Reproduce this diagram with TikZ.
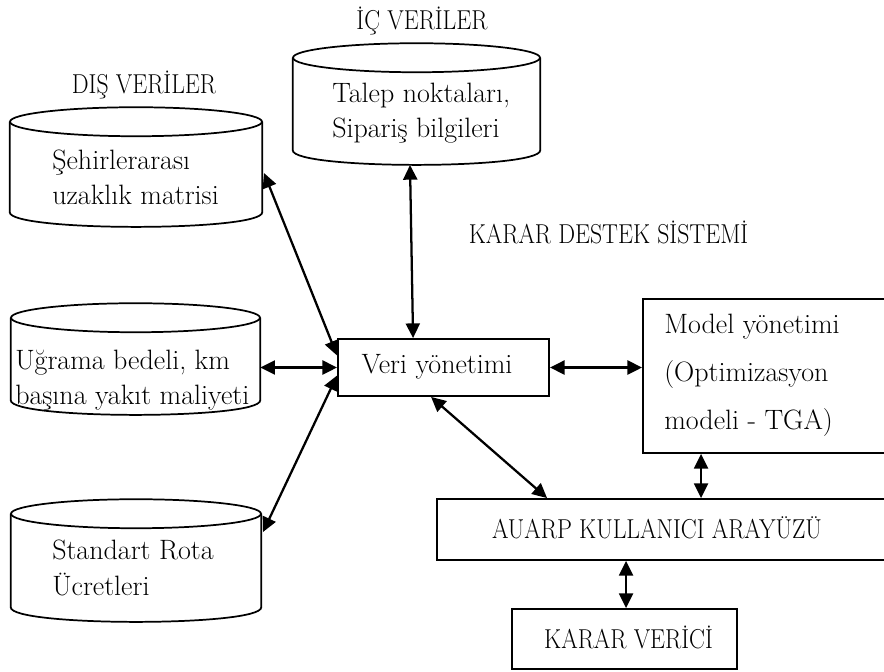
\documentclass[tikz,border=0pt]{standalone}
\usepackage{fontspec}
\newfontfamily\capfont{Latin Modern Roman}[FakeStretch=0.87]
\usetikzlibrary{arrows.meta,fit,calc}

\tikzset{
  txt/.style={font=\fontsize{21}{26}\selectfont, inner sep=0pt},
  captxt/.style={font=\capfont\fontsize{20.5}{24}\selectfont, inner sep=0pt},
  cyltxt/.style={txt, align=left, anchor=west},
  frame/.style={draw, line width=1.4pt, inner sep=0pt},
  body/.style={inner sep=0pt},
  cyl/.style={line width=1.3pt},
  tip/.tip={Triangle[length=11pt,width=10.5pt]},
  link/.style={line width=1.7pt, tip-tip},
}

% cylinder outline around a body node: top ellipse, sides, lower arc
\newcommand{\dbdrum}[2]{%
  \draw[cyl] ($(#1.north west)!0.5!(#1.north east)$) ellipse [x radius=#2, y radius=14.5];
  \draw[cyl] (#1.north west) -- (#1.south west)
    .. controls ($(#1.south west)+(0,19.5)$) and ($(#1.south east)+(0,19.5)$) .. (#1.south east)
    -- (#1.north east);
}

\begin{document}
\begin{tikzpicture}[x=0.75pt,y=-0.75pt]
\useasboundingbox (0,0) rectangle (884,671);
\clip (0,0) rectangle (884,671);

% data stores
\node[body, fit={(293,58) (540,150)}] (ic) {};
\node[body, fit={(10,122) (262,212)}] (sehir) {};
\node[body, fit={(11,318) (260,400)}] (ugrama) {};
\node[body, fit={(11,514) (261,607)}] (rota) {};
\dbdrum{ic}{123.5}
\dbdrum{sehir}{126}
\dbdrum{ugrama}{124.5}
\dbdrum{rota}{125}

\node[cyltxt] (ictxt) at (332,113) {Talep noktaları,\\Sipariş bilgileri};
\node[cyltxt] (sehirtxt) at (52,177) {Şehirlerarası\\uzaklık matrisi};
\node[cyltxt] (ugramatxt) at (15,380) {Uğrama bedeli, km\\başına yakıt maliyeti};
\node[cyltxt, font=\fontsize{21}{27.5}\selectfont] (rotatxt) at (52,568) {Standart Rota\\Ücretleri};

% headings
\node[captxt] (icbaslik) at (422,21) {İÇ VERİLER};
\node[captxt] (disbaslik) at (144,85) {DIŞ VERİLER};
\node[captxt] (kds) at (608.5,232) {KARAR DESTEK SİSTEMİ};

% system boxes
\node[frame, fit={(338,339) (549,396)}] (veri) {};
\node[txt] (veritxt) at (437,367) {Veri yönetimi};
\node[frame, fit={(643,299) (900,453)}] (model) {};
\node[txt, align=left, anchor=west, font=\fontsize{21}{36}\selectfont] (modeltxt) at (664,375) {Model yönetimi\\(Optimizasyon\\modeli - TGA)};
\node[frame, fit={(437,499) (900,560)}] (arayuz) {};
\node[captxt] (arayuztxt) at (657,528) {AUARP KULLANICI ARAYÜZÜ};
\node[frame, fit={(512,609) (737,669)}] (karar) {};
\node[captxt] (karartxt) at (628.5,637) {KARAR VERİCİ};

% connector end points
\coordinate (icA) at (410,165);
\coordinate (icB) at ($(veri.north west)+(76,0)$);
\coordinate (sehirA) at (264,173);
\coordinate (sehirB) at ($(veri.west)+(0,-12)$);
\coordinate (ugramaA) at (ugrama.east |- veri.west);
\coordinate (rotaA) at (263,532);
\coordinate (rotaB) at ($(veri.west)+(0,8)$);
\coordinate (veriS) at ($(veri.south west)+(94,0)$);
\coordinate (arayuzN) at ($(arayuz.north west)+(111,0)$);
\coordinate (modelS) at ($(model.south west)+(59,0)$);
\coordinate (arayuzM) at (modelS |- arayuz.north);
\coordinate (arayuzS) at ($(arayuz.south west)+(190,0)$);
\coordinate (kararN) at (arayuzS |- karar.north);

% connectors
\draw[link] (icA) -- (icB);
\draw[link] (sehirA) -- (sehirB);
\draw[link] (ugramaA) -- (veri.west);
\draw[link] (rotaA) -- (rotaB);
\draw[link] (veri.east) -- (model.west |- veri.east);
\draw[link] (veriS) -- (arayuzN);
\draw[link] (modelS) -- (arayuzM);
\draw[link] (arayuzS) -- (kararN);
\end{tikzpicture}
\end{document}
